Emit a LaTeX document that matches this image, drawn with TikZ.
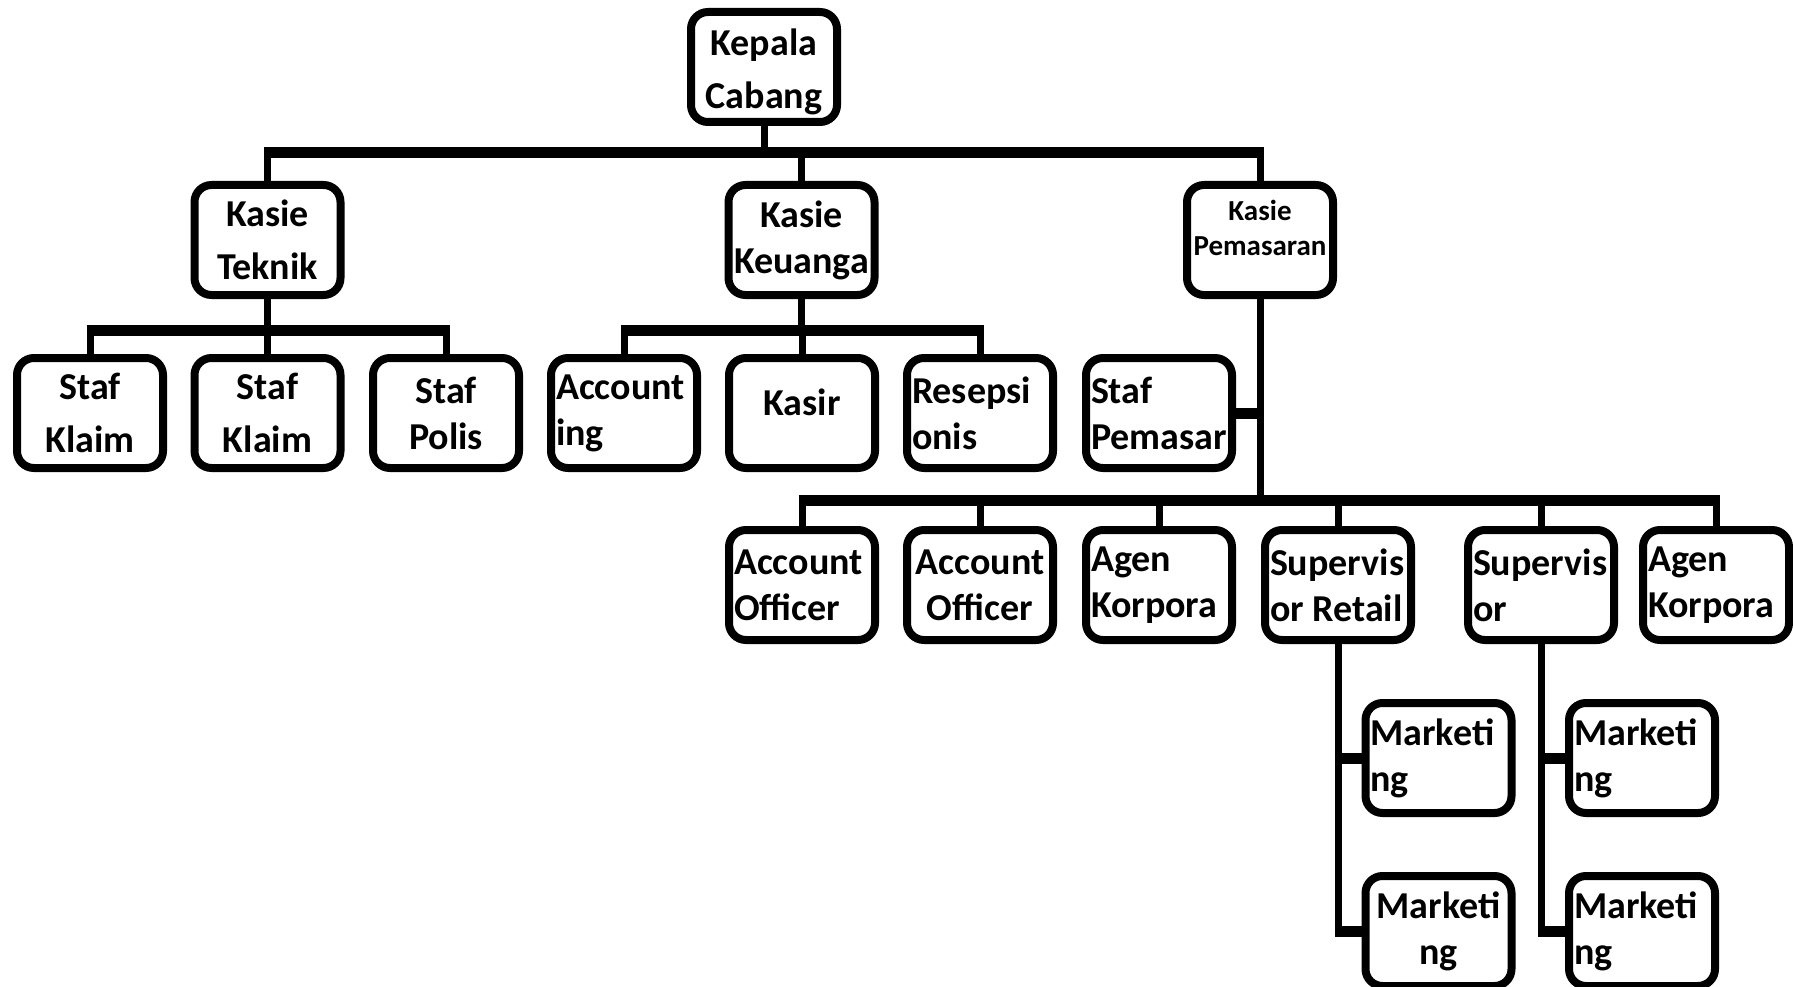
\documentclass[tikz,border=0pt]{standalone}
\usepackage{fontspec}
\setmainfont{Carlito}
\usepackage{tikz}
\usetikzlibrary{positioning}

\begin{document}
\begin{tikzpicture}[x=1pt, y=-1pt,
  every post/.style={draw, fill=white, line width=8pt, rounded corners=17pt,
    minimum width=146pt, minimum height=110pt, text width=136pt, inner sep=5pt,
    font=\bfseries\fontsize{38}{46}\selectfont},
  post loose/.style={font=\bfseries\fontsize{38}{53}\selectfont},
  post center/.style={align=flush center},
  post left/.style={align=flush left},
  kasie 1/.style={post loose},
  staff 1/.style={post loose},
  staff 2/.style={post loose},
  staff 5/.style={text depth=22pt},
  drop/.style={line width=7pt},
  bus/.style={line width=11pt, shorten <=-3.5pt, shorten >=-3.5pt}]

\useasboundingbox (0,0) rectangle (1793,987);

\node [every post, post center, post loose, text depth=50pt] (head) at (764,67) {Kepala\\Cabang};

\foreach \x/\l [count=\i] in {267.5/{Kasie\\Teknik}, 801.5/{Kasie\\Keuanga}}
  \node [every post, post center, kasie \i/.try] (kasie-\i) at (\x,240) {\l};
\node [every post, post center, font=\bfseries\fontsize{29}{35}\selectfont,
  text depth=60pt] (kasie-3) at (1260,240) {Kasie\\Pemasaran};

\foreach \x/\a/\l [count=\i] in {90/center/{Staf\\Klaim}, 267.5/center/{Staf\\Klaim},
    446/center/{Staf\\Polis}, 624/left/{Account\\ing}, 802/center/{Kasir},
    980/left/{Resepsi\\onis}, 1159/left/{Staf\\Pemasar}}
  \node [every post, post \a/.try, staff \i/.try] (staff-\i) at (\x,413) {\l};

\foreach \x/\a/\l [count=\i] in {802/left/{Account\\Officer}, 980/center/{Account\\Officer},
    1159/left/{Agen\\Korpora}, 1338/left/{Supervis\\or Retail},
    1541/left/{Supervis\\or}, 1716/left/{Agen\\Korpora}}
  \node [every post, post \a/.try] (officer-\i) at (\x,585) {\l};

\foreach \x/\y/\a [count=\i] in {1438.5/758/left, 1642/758/left,
    1438.5/931/center, 1642/931/left}
  \node [every post, post \a/.try] (marketing-\i) at (\x,\y) {Marketi\\ng};

\coordinate (top-bus) at (0,153);
\coordinate (mid-bus) at (0,330);
\coordinate (low-bus) at (0,500);

\draw [drop] (head) -- (head |- top-bus);
\draw [bus] (kasie-1 |- top-bus) -- (kasie-3 |- top-bus);
\foreach \i in {1,...,3}
  \draw [drop] (kasie-\i) -- (kasie-\i |- top-bus);

\foreach \k/\a/\b in {1/1/3, 2/4/6} {
  \draw [drop] (kasie-\k) -- (kasie-\k |- mid-bus);
  \draw [bus] (staff-\a |- mid-bus) -- (staff-\b |- mid-bus);
  \foreach \i in {\a,...,\b}
    \draw [drop] (staff-\i) -- (staff-\i |- mid-bus);
}

\draw [drop] (kasie-3) -- (kasie-3 |- low-bus);
\draw [bus] (staff-7) -- (staff-7 -| kasie-3);
\draw [bus] (officer-1 |- low-bus) -- (officer-6 |- low-bus);
\foreach \i in {1,...,6}
  \draw [drop] (officer-\i) -- (officer-\i |- low-bus);

\foreach \s/\j/\k in {4/1/3, 5/2/4} {
  \draw [drop] (officer-\s) -- (officer-\s |- marketing-\k);
  \draw [bus] (officer-\s |- marketing-\j) -- (marketing-\j);
  \draw [bus] (officer-\s |- marketing-\k) -- (marketing-\k);
}

\end{tikzpicture}
\end{document}
